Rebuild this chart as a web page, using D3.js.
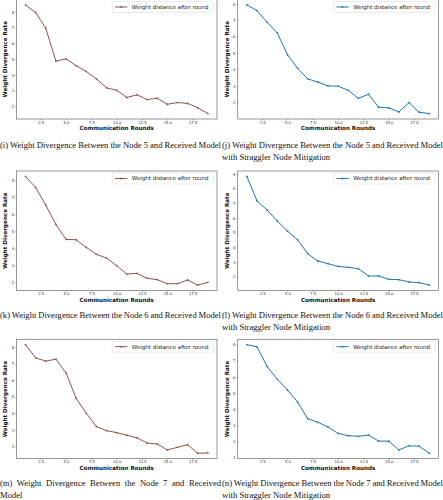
<!DOCTYPE html>
<html>
<head>
<meta charset="utf-8">
<script src="https://cdn.jsdelivr.net/npm/d3@7"></script>
<style>
  html, body { margin: 0; padding: 0; background: #fff; }
  svg { display: block; }
</style>
</head>
<body>
<script>
// ---------------- data ----------------
const rounds = [1,2,3,4,5,6,7,8,9,10,11,12,13,14,15,16,17,18,19];
const node5 = [8.44,7.96,6.96,4.87,5.02,4.58,4.22,3.75,3.18,3.03,2.57,2.74,2.44,2.52,2.14,2.25,2.19,1.92,1.55];
const node5Mit = [7.94,7.59,6.88,6.23,4.90,4.08,3.43,3.23,3.00,2.98,2.73,2.24,2.49,1.70,1.66,1.41,1.98,1.39,1.31];
const node6 = [8.24,7.59,6.55,5.41,4.53,4.51,4.06,3.65,3.43,2.98,2.49,2.53,2.24,2.16,1.92,1.92,2.14,1.84,2.00];
const node6Mit = [8.84,7.16,6.55,5.80,5.11,4.52,3.57,3.07,2.89,2.70,2.64,2.55,2.05,2.05,1.82,1.80,1.64,1.59,1.43];
const node7 = [8.16,7.36,7.16,7.28,6.45,4.90,4.00,3.20,2.95,2.83,2.67,2.51,2.20,2.14,1.78,1.94,2.10,1.58,1.60];
const node7Mit = [8.00,7.86,6.64,5.85,5.19,4.45,3.41,3.19,2.90,2.50,2.36,2.32,2.40,2.02,2.02,1.48,1.73,1.71,1.27];

const xTicks = [2.5,5.0,7.5,10.0,12.5,15.0,17.5];
const yTicks5 = [2,3,4,5,6,7,8];
const yTicks5Mit = [2,3,4,5,6,7,8];
const yTicks6 = [2,3,4,5,6,7,8];
const yTicks6Mit = [2,3,4,5,6,7,8,9];
const yTicks7 = [2,3,4,5,6,7,8];
const yTicks7Mit = [1,2,3,4,5,6,7,8];

const legendLabel = "Weight distance after round";
const xLabel = "Communication Rounds";
const yLabel = "Weight Divergence Rate";

const captions = [
  ["(i) Weight Divergence Between the Node 5 and Received Model"],
  ["(j) Weight Divergence Between the Node 5 and Received Model", "with Straggler Node Mitigation"],
  ["(k) Weight Divergence Between the Node 6 and Received Model"],
  ["(l) Weight Divergence Between the Node 6 and Received Model", "with Straggler Node Mitigation"],
  ["(m) Weight Divergence Between the Node 7 and Received", "Model"],
  ["(n) Weight Divergence Between the Node 7 and Received Model", "with Straggler Node Mitigation"]
];

const panels = [
  {values: node5,    yTicks: yTicks5,    color: "#8c564b"},
  {values: node5Mit, yTicks: yTicks5Mit, color: "#1f77b4"},
  {values: node6,    yTicks: yTicks6,    color: "#8c564b"},
  {values: node6Mit, yTicks: yTicks6Mit, color: "#1f77b4"},
  {values: node7,    yTicks: yTicks7,    color: "#8c564b"},
  {values: node7Mit, yTicks: yTicks7Mit, color: "#1f77b4"}
];

// ---------------- layout ----------------
const W = 443, H = 500;
const colX = [16.4, 237.8];
const axW = 200.6;
const rowY = [-0.5, 171, 339.2];
const axH = 119.5;
const capY = [148, 318, 486];
const capLineH = 11.5;
const colCapX = [0, 222];
const capWidth = 221;

const svg = d3.select("body").append("svg").attr("width", W).attr("height", H);

panels.forEach((p, i) => {
  const col = i % 2, row = Math.floor(i / 2);
  const x0 = colX[col], y0 = rowY[row];
  const g = svg.append("g").attr("transform", `translate(${x0},${y0})`);

  const xExt = d3.extent(rounds), xm = (xExt[1] - xExt[0]) * 0.05;
  const yExt = d3.extent(p.values), ym = (yExt[1] - yExt[0]) * 0.05;
  const x = d3.scaleLinear().domain([xExt[0] - xm, xExt[1] + xm]).range([0, axW]);
  const y = d3.scaleLinear().domain([yExt[0] - ym, yExt[1] + ym]).range([axH, 0]);

  // axes
  const xAxis = d3.axisBottom(x).tickValues(xTicks).tickFormat(d3.format(".1f")).tickSize(1.2).tickPadding(0.8);
  const yAxis = d3.axisLeft(y).tickValues(p.yTicks).tickFormat(d3.format("d")).tickSize(1.2).tickPadding(1.2);

  const gx = g.append("g").attr("transform", `translate(0,${axH})`).call(xAxis);
  const gy = g.append("g").call(yAxis);
  [gx, gy].forEach(a => {
    a.select(".domain").remove();
    a.selectAll(".tick line").attr("stroke", "#333").attr("stroke-width", 0.4);
    a.selectAll(".tick text").attr("font-family", "DejaVu Sans").attr("font-size", 3.7).attr("fill", "#222");
  });

  // frame
  g.append("rect").attr("x", 0).attr("y", 0).attr("width", axW).attr("height", axH)
    .attr("fill", "none").attr("stroke", "#333").attr("stroke-width", 0.5);

  // line
  const line = d3.line().x((d, k) => x(rounds[k])).y(d => y(d));
  g.append("path").datum(p.values).attr("d", line)
    .attr("fill", "none").attr("stroke", p.color).attr("stroke-width", 1.0).attr("stroke-linejoin", "round");
  g.selectAll("circle.pt").data(p.values).enter().append("circle")
    .attr("class", "pt").attr("cx", (d, k) => x(rounds[k])).attr("cy", d => y(d))
    .attr("r", 0.9).attr("fill", p.color);

  // legend
  const lg = g.append("g").attr("transform", `translate(${axW - 104.7},2)`);
  lg.append("rect").attr("x", 0).attr("y", 0).attr("width", 101.5).attr("height", 11)
    .attr("rx", 1).attr("fill", "#fff").attr("fill-opacity", 0.8)
    .attr("stroke", "#ccc").attr("stroke-width", 0.4);
  lg.append("line").attr("x1", 2.8).attr("x2", 15).attr("y1", 5.5).attr("y2", 5.5)
    .attr("stroke", p.color).attr("stroke-width", 1.0);
  lg.append("circle").attr("cx", 8.9).attr("cy", 5.5).attr("r", 0.9).attr("fill", p.color);
  lg.append("text").attr("x", 19.5).attr("y", 7.4).attr("font-family", "DejaVu Sans")
    .attr("font-size", 5.5).attr("fill", "#222").text(legendLabel);

  // axis labels
  g.append("text").attr("x", axW / 2).attr("y", axH + 11.2).attr("text-anchor", "middle")
    .attr("font-family", "DejaVu Sans").attr("font-weight", "bold").attr("font-size", 5.6)
    .attr("fill", "#111").text(xLabel);
  g.append("text").attr("transform", `translate(${-9.1},${axH / 2}) rotate(-90)`)
    .attr("text-anchor", "middle").attr("font-family", "DejaVu Sans").attr("font-weight", "bold")
    .attr("font-size", 5.6).attr("fill", "#111").text(yLabel);

  // caption
  const lines = captions[i];
  lines.forEach((t, li) => {
    const txt = svg.append("text").attr("x", colCapX[col]).attr("y", capY[row] + li * capLineH)
      .attr("font-family", "Liberation Serif").attr("font-size", 8.6).attr("fill", "#111")
      .attr("xml:space", "preserve").text(t);
    const justify = (li === 0);
    if (justify) {
      const w = txt.node().getComputedTextLength();
      const spaces = (t.match(/ /g) || []).length;
      if (spaces > 0) txt.attr("word-spacing", (capWidth - w) / spaces);
    }
  });
});
</script>
</body>
</html>
